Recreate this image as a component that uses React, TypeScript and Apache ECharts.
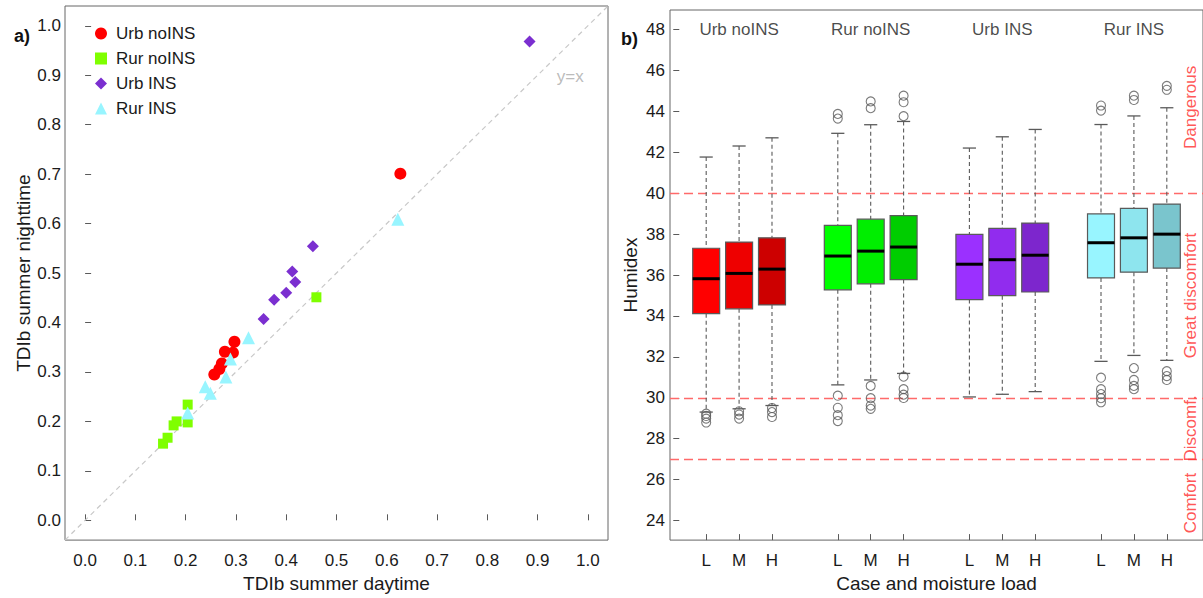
import React, { useEffect, useRef } from "react";
import * as echarts from "echarts";

// ---------- Panel a) data ----------
const scatterNames = ["Urb noINS", "Rur noINS", "Urb INS", "Rur INS"];
const urbNoInsDay = [0.257, 0.267, 0.272, 0.278, 0.294, 0.297, 0.627];
const urbNoInsNight = [0.295, 0.306, 0.317, 0.341, 0.339, 0.361, 0.701];
const rurNoInsDay = [0.155, 0.164, 0.176, 0.182, 0.204, 0.204, 0.46];
const rurNoInsNight = [0.155, 0.167, 0.192, 0.2, 0.234, 0.198, 0.451];
const urbInsDay = [0.355, 0.376, 0.4, 0.412, 0.418, 0.453, 0.884];
const urbInsNight = [0.407, 0.446, 0.46, 0.503, 0.482, 0.554, 0.968];
const rurInsDay = [0.204, 0.239, 0.249, 0.28, 0.289, 0.325, 0.622];
const rurInsNight = [0.217, 0.27, 0.257, 0.29, 0.326, 0.369, 0.609];
const tdiTicks = [0, 0.1, 0.2, 0.3, 0.4, 0.5, 0.6, 0.7, 0.8, 0.9, 1.0];

// ---------- Panel b) data ----------
const groupLabels = ["Urb noINS", "Rur noINS", "Urb INS", "Rur INS"];
const groupCenters = [2, 6, 10, 14];
const loads = ["L", "M", "H"];
const positions = [1, 2, 3, 5, 6, 7, 9, 10, 11, 13, 14, 15];
const lowerWhisker = [29.3, 29.46, 29.62, 30.63, 30.87, 31.19, 30.04, 30.17, 30.3, 31.78, 32.07, 31.83];
const q1 = [34.11, 34.35, 34.54, 35.28, 35.57, 35.78, 34.8, 34.99, 35.17, 35.86, 36.14, 36.34];
const median = [35.82, 36.08, 36.29, 36.93, 37.17, 37.37, 36.53, 36.75, 36.97, 37.58, 37.82, 38.0];
const q3 = [37.31, 37.61, 37.82, 38.43, 38.73, 38.91, 37.99, 38.28, 38.54, 38.99, 39.26, 39.47];
const upperWhisker = [41.77, 42.31, 42.71, 42.93, 43.35, 43.51, 42.21, 42.76, 43.12, 43.36, 43.78, 44.18];
const outliers = [
  [29.22, 29.11, 28.98, 28.79],
  [29.34, 29.18, 28.98],
  [29.5, 29.3, 29.06],
  [43.88, 43.65, 30.1, 29.51, 29.15, 28.86],
  [44.49, 44.16, 30.58, 29.98, 29.62, 29.46],
  [44.77, 44.45, 43.77, 31.03, 30.42, 30.15, 29.99],
  [],
  [],
  [],
  [44.29, 44.04, 30.98, 30.42, 30.18, 29.98, 29.78],
  [44.77, 44.56, 31.45, 30.87, 30.58, 30.42],
  [45.25, 45.06, 31.3, 31.06, 30.87],
];
const boxColors = [
  "#FF0000", "#EE0000", "#CD0000",
  "#00FF00", "#00EE00", "#00CD00",
  "#9B30FF", "#912CEE", "#7D26CD",
  "#98F5FF", "#8EE5EE", "#7AC5CD",
];
const humidexTicks = [24, 26, 28, 30, 32, 34, 36, 38, 40, 42, 44, 46, 48];
const zoneLimits = [40, 30, 27];
const zoneNames = ["Dangerous", "Great discomfort", "Discomf.", "Comfort"];
const zoneCenters = [44.2, 35, 28.5, 24.85];

const FONT = "'Liberation Sans', Arial, sans-serif";
const GRAY = "#5a5a5a";
const TXT = "#1a1a1a";

export default function App() {
  const ref = useRef<HTMLDivElement>(null);

  useEffect(() => {
    document.body.style.margin = "0";
    const chart = echarts.init(ref.current!, null, { renderer: "svg" });

    const zip = (a: number[], b: number[]) => a.map((v, i) => [v, b[i]]);

    const boxData = positions.map((p, i) => [p, lowerWhisker[i], q1[i], median[i], q3[i], upperWhisker[i], i]);
    const outlierData: number[][] = [];
    outliers.forEach((list, i) => list.forEach((v) => outlierData.push([positions[i], v])));

    const scatterBase = (name: string, data: number[][], symbol: string, size: number, color: string) => ({
      name,
      type: "scatter",
      xAxisIndex: 0,
      yAxisIndex: 0,
      data,
      symbol,
      symbolSize: size,
      itemStyle: { color, opacity: 1 },
      z: 5,
    });

    const option: any = {
      animation: false,
      textStyle: { fontFamily: FONT },
      legend: {
        data: scatterNames,
        orient: "vertical",
        left: 90,
        top: 20,
        itemWidth: 12,
        itemHeight: 12,
        itemGap: 8,
        textStyle: { fontSize: 17, color: TXT, fontFamily: FONT, padding: [0, 0, 0, 4] },
      },
      graphic: [
        { type: "text", left: 14, top: 27, style: { text: "a)", font: `bold 18px ${FONT}`, fill: "#111" } },
        { type: "text", left: 621, top: 30, style: { text: "b)", font: `bold 18px ${FONT}`, fill: "#111" } },
      ],
      grid: [
        { left: 65, top: 6, width: 543, height: 545, show: true, borderColor: "#666", borderWidth: 1, backgroundColor: "transparent" },
        { left: 670, top: 10, width: 538, height: 541, show: true, borderColor: "#666", borderWidth: 1, backgroundColor: "transparent" },
      ],
      xAxis: [
        {
          gridIndex: 0,
          type: "value",
          min: -0.04,
          max: 1.04,
          name: "TDIb summer daytime",
          nameLocation: "middle",
          nameGap: 33,
          nameTextStyle: { fontSize: 19, color: TXT },
          axisLine: { show: false },
          splitLine: { show: false },
          axisTick: { show: true, inside: true, length: 6, customValues: tdiTicks, lineStyle: { color: GRAY } },
          axisLabel: { customValues: tdiTicks, formatter: (v: number) => v.toFixed(1), fontSize: 17, color: TXT, margin: 12 },
        },
        {
          gridIndex: 1,
          type: "value",
          min: -0.1,
          max: 16.1,
          name: "Case and moisture load",
          nameLocation: "middle",
          nameGap: 33,
          nameTextStyle: { fontSize: 19, color: TXT },
          axisLine: { show: false },
          splitLine: { show: false },
          axisTick: { show: true, inside: true, length: 6, customValues: positions, lineStyle: { color: GRAY } },
          axisLabel: {
            customValues: positions,
            formatter: (v: number) => loads[positions.indexOf(v) % 3] ?? "",
            fontSize: 17,
            color: TXT,
            margin: 12,
          },
        },
      ],
      yAxis: [
        {
          gridIndex: 0,
          type: "value",
          min: -0.04,
          max: 1.04,
          name: "TDIb summer nighttime",
          nameLocation: "middle",
          nameGap: 32,
          nameTextStyle: { fontSize: 19, color: TXT },
          axisLine: { show: false },
          splitLine: { show: false },
          axisTick: { show: true, inside: true, length: 6, customValues: tdiTicks, lineStyle: { color: GRAY } },
          axisLabel: { customValues: tdiTicks, formatter: (v: number) => v.toFixed(1), fontSize: 17, color: TXT, margin: 4 },
        },
        {
          gridIndex: 1,
          type: "value",
          min: 23.04,
          max: 48.96,
          name: "Humidex",
          nameLocation: "middle",
          nameGap: 30,
          nameTextStyle: { fontSize: 19, color: TXT },
          axisLine: { show: false },
          splitLine: { show: false },
          axisTick: { show: true, inside: true, length: 6, customValues: humidexTicks, lineStyle: { color: GRAY } },
          axisLabel: { customValues: humidexTicks, fontSize: 17, color: TXT, margin: 5 },
        },
      ],
      series: [
        {
          name: "y=x line",
          type: "line",
          xAxisIndex: 0,
          yAxisIndex: 0,
          data: [[-0.04, -0.04], [1.04, 1.04]],
          showSymbol: false,
          symbol: "none",
          lineStyle: { color: "#c8c8c8", width: 1.2, type: [5, 4] },
          silent: true,
          z: 1,
        },
        {
          name: "y=x label",
          type: "scatter",
          xAxisIndex: 0,
          yAxisIndex: 0,
          data: [[0.965, 0.897]],
          symbolSize: 0,
          silent: true,
          label: { show: true, position: "inside", formatter: "y=x", fontSize: 17, color: "#aaaaaa" },
        },
        scatterBase("Urb noINS", zip(urbNoInsDay, urbNoInsNight), "circle", 12, "#FF0000"),
        scatterBase("Rur noINS", zip(rurNoInsDay, rurNoInsNight), "rect", 10, "#7FFF00"),
        scatterBase("Urb INS", zip(urbInsDay, urbInsNight), "diamond", 12, "#7B2FD0"),
        scatterBase("Rur INS", zip(rurInsDay, rurInsNight), "triangle", 13, "#98F5FF"),
        {
          name: "boxes",
          type: "custom",
          xAxisIndex: 1,
          yAxisIndex: 1,
          data: boxData,
          encode: { x: 0, y: [1, 2, 3, 4, 5] },
          z: 4,
          renderItem: (_params: any, api: any) => {
            const x = api.value(0);
            const lo = api.value(1);
            const b1 = api.value(2);
            const md = api.value(3);
            const b3 = api.value(4);
            const hi = api.value(5);
            const ci = api.value(6);
            const hw = 0.41;
            const cw = 0.2;
            const tl = api.coord([x - hw, b3]);
            const br = api.coord([x + hw, b1]);
            const mL = api.coord([x - hw, md]);
            const mR = api.coord([x + hw, md]);
            const top = api.coord([x, hi]);
            const bot = api.coord([x, lo]);
            const capL = api.coord([x - cw, hi]);
            const capR = api.coord([x + cw, hi]);
            const capL2 = api.coord([x - cw, lo]);
            const capR2 = api.coord([x + cw, lo]);
            const wStyle = { stroke: GRAY, lineWidth: 1.1, lineDash: [4, 3] };
            const cStyle = { stroke: GRAY, lineWidth: 1.3 };
            return {
              type: "group",
              children: [
                { type: "line", shape: { x1: top[0], y1: top[1], x2: top[0], y2: tl[1] }, style: wStyle },
                { type: "line", shape: { x1: bot[0], y1: br[1], x2: bot[0], y2: bot[1] }, style: wStyle },
                { type: "line", shape: { x1: capL[0], y1: capL[1], x2: capR[0], y2: capR[1] }, style: cStyle },
                { type: "line", shape: { x1: capL2[0], y1: capL2[1], x2: capR2[0], y2: capR2[1] }, style: cStyle },
                {
                  type: "rect",
                  shape: { x: tl[0], y: tl[1], width: br[0] - tl[0], height: br[1] - tl[1] },
                  style: { fill: boxColors[ci], stroke: GRAY, lineWidth: 1.2 },
                },
                { type: "line", shape: { x1: mL[0], y1: mL[1], x2: mR[0], y2: mR[1] }, style: { stroke: "#000", lineWidth: 3 } },
              ],
            };
          },
        },
        {
          name: "outliers",
          type: "scatter",
          xAxisIndex: 1,
          yAxisIndex: 1,
          data: outlierData,
          symbol: "circle",
          symbolSize: 9,
          itemStyle: { color: "transparent", borderColor: GRAY, borderWidth: 1.1 },
          z: 6,
          markLine: {
            silent: true,
            symbol: ["none", "none"],
            label: { show: false },
            lineStyle: { color: "#FF6a6a", width: 1.3, type: [9, 5] },
            data: zoneLimits.map((v) => ({ yAxis: v })),
            z: 2,
          },
        },
        {
          name: "group labels",
          type: "scatter",
          xAxisIndex: 1,
          yAxisIndex: 1,
          symbolSize: 0,
          silent: true,
          data: groupLabels.map((g, i) => ({ value: [groupCenters[i], 48], name: g })),
          label: { show: true, position: "inside", formatter: "{b}", fontSize: 17, color: TXT },
        },
        {
          name: "zone labels",
          type: "scatter",
          xAxisIndex: 1,
          yAxisIndex: 1,
          symbolSize: 0,
          silent: true,
          data: zoneNames.map((z, i) => ({ value: [15.71, zoneCenters[i]], name: z })),
          label: { show: true, position: "inside", rotate: 90, formatter: "{b}", fontSize: 17, color: "#FF2a2a" },
        },
      ],
    };

    chart.setOption(option);
    return () => chart.dispose();
  }, []);

  return <div ref={ref} style={{ width: 1203, height: 598 }} />;
}
